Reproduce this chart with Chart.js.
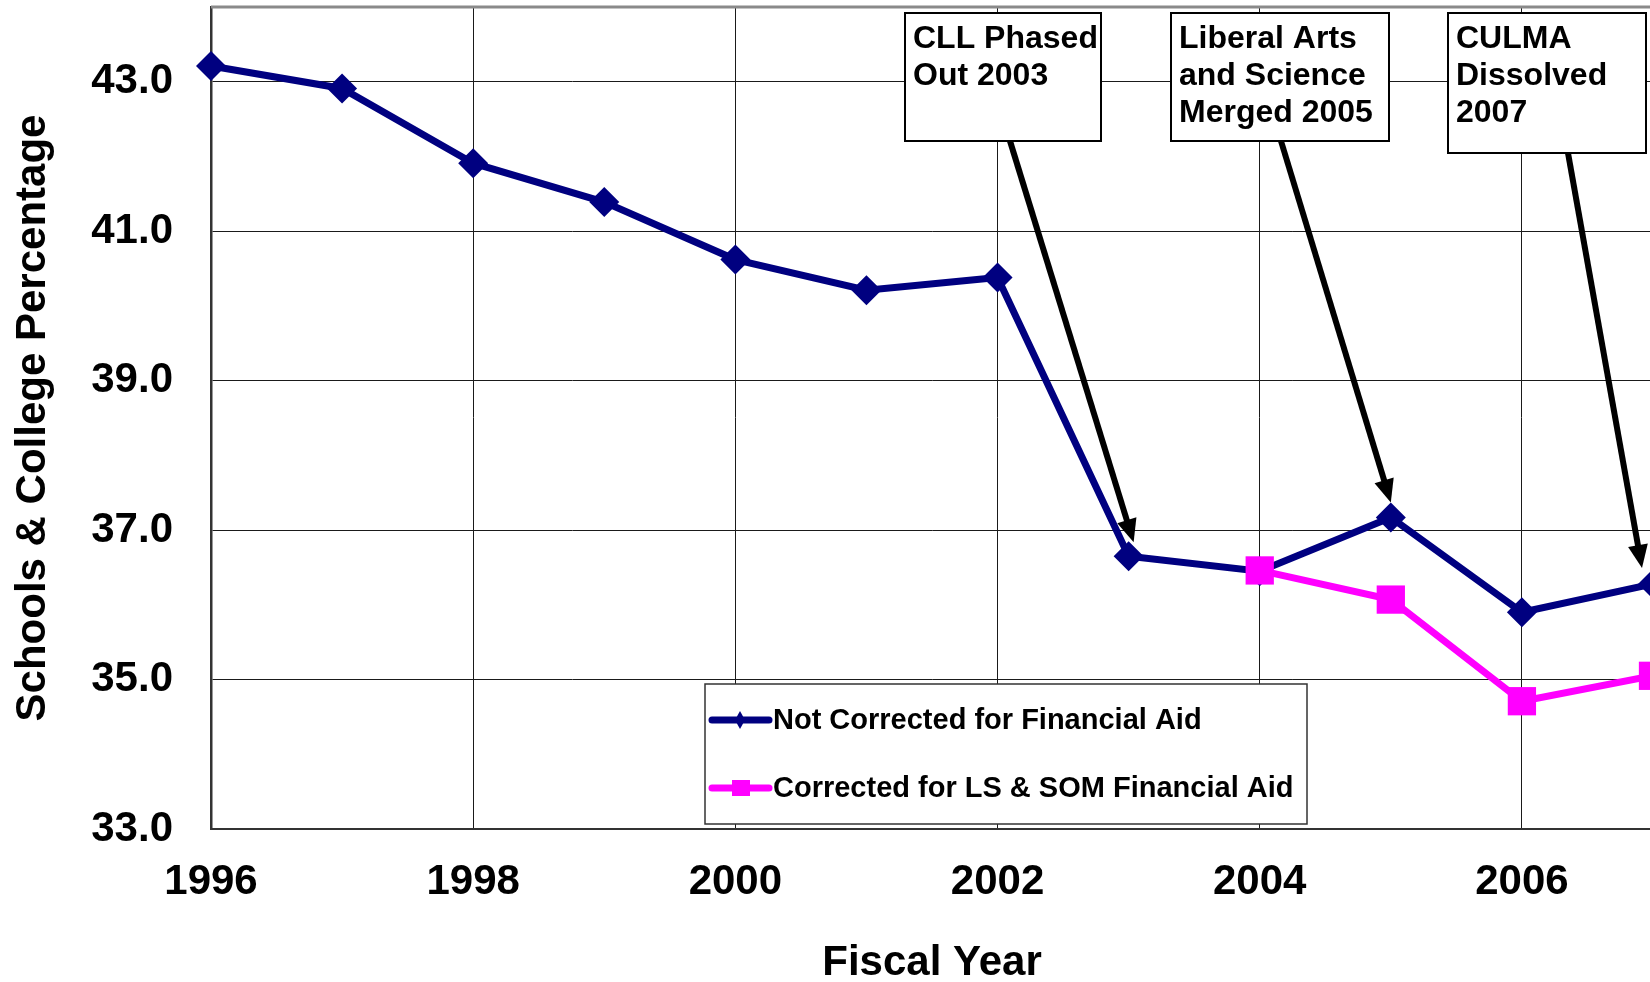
<!DOCTYPE html>
<html>
<head>
<meta charset="utf-8">
<title>Schools & College Percentage</title>
<script src="https://cdn.jsdelivr.net/npm/chart.js@4/dist/chart.umd.min.js"></script>
<style>
  html, body { margin: 0; padding: 0; background: #fff; overflow: hidden; }
  #wrap { position: absolute; left: 0; top: 0; width: 1653px; height: 982px; }
</style>
</head>
<body>
<div id="wrap"><canvas id="chart"></canvas></div>
<script>
// values
const years = [1996, 1997, 1998, 1999, 2000, 2001, 2002, 2003, 2004, 2005, 2006, 2007];
const notCorrected = [43.21, 42.91, 41.91, 41.39, 40.62, 40.21, 40.38, 36.65, 36.45, 37.17, 35.90, 36.28];
const correctedYears = [2004, 2005, 2006, 2007];
const corrected = [36.46, 36.07, 34.71, 35.05];
const xTickValues = [1996, 1998, 2000, 2002, 2004, 2006];
const yTickValues = [33, 35, 37, 39, 41, 43];
const seriesNames = ["Not Corrected for Financial Aid", "Corrected for LS & SOM Financial Aid"];
const noteTexts = [["CLL Phased", "Out 2003"], ["Liberal Arts", "and Science", "Merged 2005"], ["CULMA", "Dissolved", "2007"]];
const noteYears = [2003, 2005, 2007];

const NAVY = "#000080";
const MAGENTA = "#ff00ff";
const FONT = "'Liberation Sans', Arial, sans-serif";

// where the note boxes sit (pixels) and how the arrow meets its point
const noteBoxes = [
    { left: 905, top: 13, width: 196, height: 128, startX: 1010, startY: 141, dx: 5, dy: -14 },
    { left: 1171, top: 13, width: 218, height: 128, startX: 1281, startY: 141, dx: 0, dy: -15 },
    { left: 1448, top: 13, width: 198, height: 140, startX: 1568, startY: 153, dx: -11, dy: -16 }
];

function toPoints(xs, ys) {
    return xs.map((x, i) => ({ x: x, y: ys[i] }));
}

function drawArrow(ctx, sx, sy, tx, ty) {
    const ang = Math.atan2(ty - sy, tx - sx);
    const headLen = 23, headHalf = 10;
    const bx = tx - Math.cos(ang) * headLen;
    const by = ty - Math.sin(ang) * headLen;
    ctx.strokeStyle = "#000";
    ctx.lineWidth = 6;
    ctx.beginPath();
    ctx.moveTo(sx, sy);
    ctx.lineTo(bx + Math.cos(ang) * 4, by + Math.sin(ang) * 4);
    ctx.stroke();
    ctx.fillStyle = "#000";
    ctx.beginPath();
    ctx.moveTo(tx, ty);
    ctx.lineTo(bx - Math.sin(ang) * headHalf, by + Math.cos(ang) * headHalf);
    ctx.lineTo(bx + Math.sin(ang) * headHalf, by - Math.cos(ang) * headHalf);
    ctx.closePath();
    ctx.fill();
}

const decorations = {
    id: "decorations",
    beforeDatasetsDraw(chart) {
        const ctx = chart.ctx;
        const area = chart.chartArea;
        // top frame line
        ctx.save();
        ctx.strokeStyle = "#8a8a8a";
        ctx.lineWidth = 3;
        ctx.beginPath();
        ctx.moveTo(area.left, area.top);
        ctx.lineTo(area.right, area.top);
        ctx.stroke();
        ctx.restore();
    },
    afterDatasetsDraw(chart) {
        const ctx = chart.ctx;
        const xs = chart.scales.x, ys = chart.scales.y;
        ctx.save();

        // note boxes with arrows to the points
        noteBoxes.forEach((b, i) => {
            ctx.fillStyle = "#fff";
            ctx.fillRect(b.left, b.top, b.width, b.height);
            ctx.strokeStyle = "#000";
            ctx.lineWidth = 2;
            ctx.strokeRect(b.left, b.top, b.width, b.height);
            ctx.fillStyle = "#000";
            ctx.font = "bold 32px " + FONT;
            ctx.textAlign = "left";
            ctx.textBaseline = "alphabetic";
            noteTexts[i].forEach((line, j) => {
                ctx.fillText(line, b.left + 8, b.top + 35 + j * 37);
            });
            const idx = years.indexOf(noteYears[i]);
            const px = xs.getPixelForValue(years[idx]);
            const py = ys.getPixelForValue(notCorrected[idx]);
            drawArrow(ctx, b.startX, b.startY, px + b.dx, py + b.dy);
        });

        // legend box
        const lg = { left: 705, top: 684, width: 602, height: 140 };
        ctx.fillStyle = "#fff";
        ctx.fillRect(lg.left, lg.top, lg.width, lg.height);
        ctx.strokeStyle = "#333";
        ctx.lineWidth = 1.5;
        ctx.strokeRect(lg.left, lg.top, lg.width, lg.height);
        const rows = [720, 788];
        const colors = [NAVY, MAGENTA];
        rows.forEach((ry, i) => {
            ctx.strokeStyle = colors[i];
            ctx.lineWidth = 7;
            ctx.lineCap = "round";
            ctx.beginPath();
            ctx.moveTo(712, ry);
            ctx.lineTo(769, ry);
            ctx.stroke();
            ctx.fillStyle = colors[i];
            ctx.beginPath();
            if (i === 0) {
                ctx.moveTo(740, ry - 9);
                ctx.lineTo(745, ry);
                ctx.lineTo(740, ry + 9);
                ctx.lineTo(735, ry);
                ctx.closePath();
                ctx.fill();
            } else {
                ctx.fillRect(732, ry - 8, 18, 16);
            }
            ctx.fillStyle = "#000";
            ctx.font = "bold 29px " + FONT;
            ctx.textAlign = "left";
            ctx.textBaseline = "middle";
            ctx.fillText(seriesNames[i], 773, ry + 1);
        });
        ctx.restore();
    }
};

new Chart(document.getElementById("chart"), {
    type: "line",
    data: {
        datasets: [
            {
                label: seriesNames[0],
                data: toPoints(years, notCorrected),
                borderColor: NAVY,
                backgroundColor: NAVY,
                borderWidth: 7,
                pointStyle: "rectRot",
                pointRadius: 15,
                pointBorderWidth: 0,
                pointBackgroundColor: NAVY,
                tension: 0,
                clip: false,
                order: 2
            },
            {
                label: seriesNames[1],
                data: toPoints(correctedYears, corrected),
                borderColor: MAGENTA,
                backgroundColor: MAGENTA,
                borderWidth: 7,
                pointStyle: "rect",
                pointRadius: 20,
                pointBorderWidth: 0,
                pointBackgroundColor: MAGENTA,
                tension: 0,
                clip: false,
                order: 1
            }
        ]
    },
    options: {
        responsive: true,
        maintainAspectRatio: false,
        animation: false,
        layout: { autoPadding: false, padding: { top: 7, left: 0, right: 0, bottom: 0 } },
        plugins: {
            legend: { display: false },
            tooltip: { enabled: false }
        },
        scales: {
            x: {
                type: "linear",
                min: 1996,
                max: 2007,
                afterBuildTicks: (axis) => { axis.ticks = xTickValues.map(v => ({ value: v })); },
                afterFit: (axis) => {
                    axis.height = 153;
                    axis.paddingLeft = 0;
                    axis.paddingRight = 0;
                },
                grid: { color: "#1a1a1a", lineWidth: 1, drawTicks: false },
                border: { color: "#333", width: 2 },
                ticks: {
                    padding: 28,
                    color: "#000",
                    font: { family: FONT, size: 42, weight: "bold" },
                    callback: (v) => String(v)
                },
                title: {
                    display: true,
                    text: "Fiscal Year",
                    color: "#000",
                    font: { family: FONT, size: 42, weight: "bold", lineHeight: 1 },
                    padding: { top: 0, bottom: -2 }
                }
            },
            y: {
                min: 33,
                max: 44,
                afterBuildTicks: (axis) => { axis.ticks = yTickValues.map(v => ({ value: v })); },
                afterFit: (axis) => {
                    axis.width = 211;
                    axis.paddingTop = 0;
                    axis.paddingBottom = 0;
                },
                grid: { color: "#1a1a1a", lineWidth: 1, drawTicks: false },
                border: { color: "#333", width: 2.5 },
                ticks: {
                    padding: 38,
                    color: "#000",
                    font: { family: FONT, size: 42, weight: "bold" },
                    callback: (v) => Number(v).toFixed(1)
                },
                title: {
                    display: true,
                    text: "Schools & College Percentage",
                    color: "#000",
                    font: { family: FONT, size: 42, weight: "bold" },
                    padding: { top: 8, bottom: 0 }
                }
            }
        }
    },
    plugins: [decorations]
});
</script>
</body>
</html>
